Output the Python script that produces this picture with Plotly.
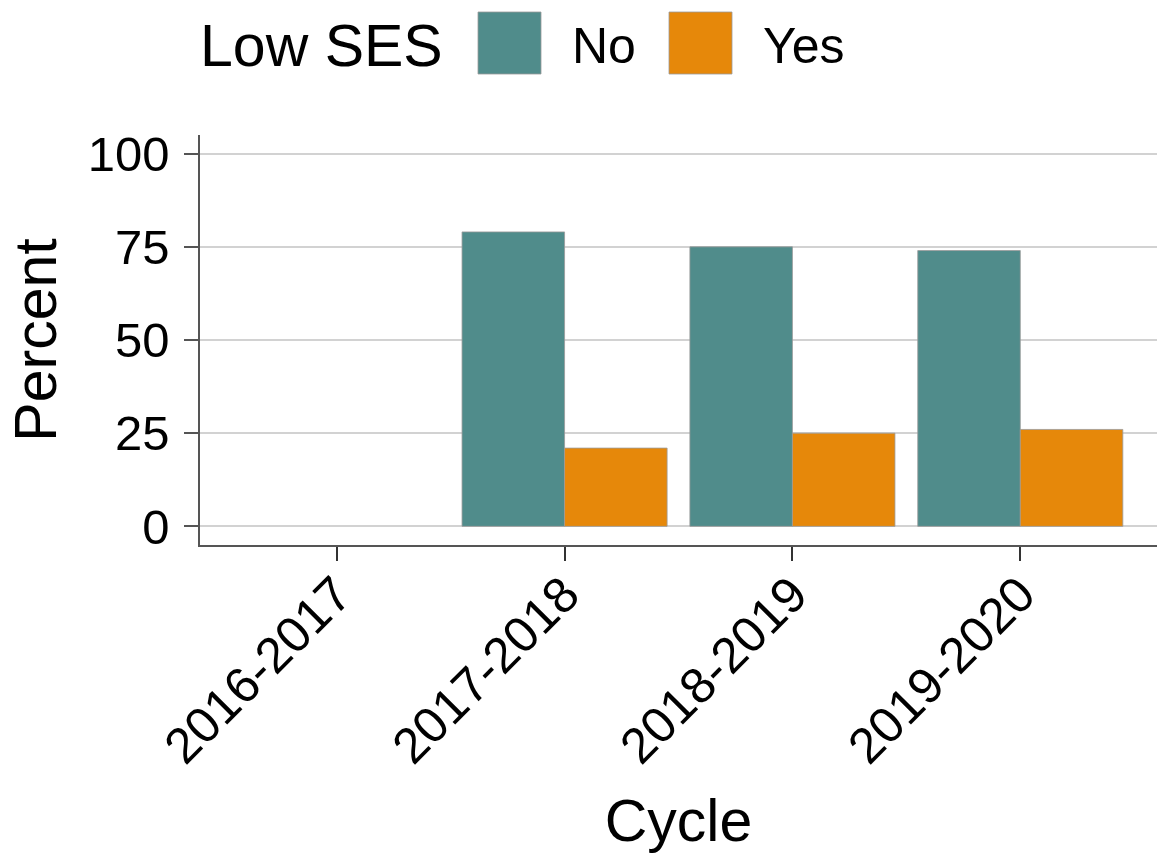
import plotly.graph_objects as go

cycles = ["2016-2017", "2017-2018", "2018-2019", "2019-2020"]
pct_no = [None, 79, 75, 74]
pct_yes = [None, 21, 25, 26]
groups = ["No", "Yes"]
colors = ["#508C8B", "#E6880A"]
legend_title = "Low SES"
y_ticks = [0, 25, 50, 75, 100]

FONT = "Liberation Sans, Arial, sans-serif"
W, H = 1157, 854
L, R, T, B = 200, 0, 135, 309
PW, PH = W - L - R, H - T - B


def px(x):
    return (x - L) / PW


def py(y):
    return (H - B - y) / PH


fig = go.Figure()
for name, vals, col in zip(groups, [pct_no, pct_yes], colors):
    fig.add_trace(go.Bar(
        x=cycles, y=vals, name=name, marker_color=col,
        marker_line=dict(color="#9A9A9A", width=0.8), showlegend=False,
    ))

# legend drawn manually (large keys like the reference)
shapes = []
annotations = [dict(text=legend_title, x=px(198), y=py(46), xref="paper", yref="paper",
                    xanchor="left", yanchor="middle", showarrow=False,
                    font=dict(size=59, color="black", family=FONT))]
key_x = [478, 669]
for kx, name, col in zip(key_x, groups, colors):
    shapes.append(dict(type="rect", xref="paper", yref="paper",
                       x0=px(kx), x1=px(kx + 63), y0=py(74), y1=py(12),
                       fillcolor=col, line=dict(color="#9A9A9A", width=0.8)))
    annotations.append(dict(text=name, x=px(kx + 92), y=py(46), xref="paper", yref="paper",
                            xanchor="left", yanchor="middle", showarrow=False,
                            font=dict(size=50, color="black", family=FONT)))

fig.update_layout(
    width=W, height=H,
    margin=dict(l=L, r=R, t=T, b=B, autoexpand=False),
    paper_bgcolor="white", plot_bgcolor="white",
    barmode="group", bargap=0.1, bargroupgap=0,
    font=dict(family=FONT, color="black"),
    shapes=shapes, annotations=annotations,
    xaxis=dict(
        type="category", range=[-0.6, 3.6],
        showline=True, linecolor="#555555", linewidth=1.6,
        ticks="outside", ticklen=14, tickwidth=1.6, tickcolor="#333333",
        tickangle=-45, tickfont=dict(size=50, color="black"),
        ticklabelstandoff=-16,
        showgrid=False, zeroline=False,
        title=dict(text="Cycle", font=dict(size=59, color="black"), standoff=26),
    ),
    yaxis=dict(
        range=[-5, 105], tickvals=y_ticks,
        showline=True, linecolor="#555555", linewidth=1.6,
        ticks="outside", ticklen=14, tickwidth=1.6, tickcolor="#555555",
        tickfont=dict(size=49, color="black"), ticklabelstandoff=5,
        showgrid=True, gridcolor="#D2D2D2", gridwidth=1.8, zeroline=False,
        title=dict(text="Percent", font=dict(size=59, color="black"), standoff=12),
    ),
)

fig.write_html(
    "out.html",
    config={"displayModeBar": False},
    post_script="document.body.style.margin='0';document.body.style.overflow='hidden';",
)
